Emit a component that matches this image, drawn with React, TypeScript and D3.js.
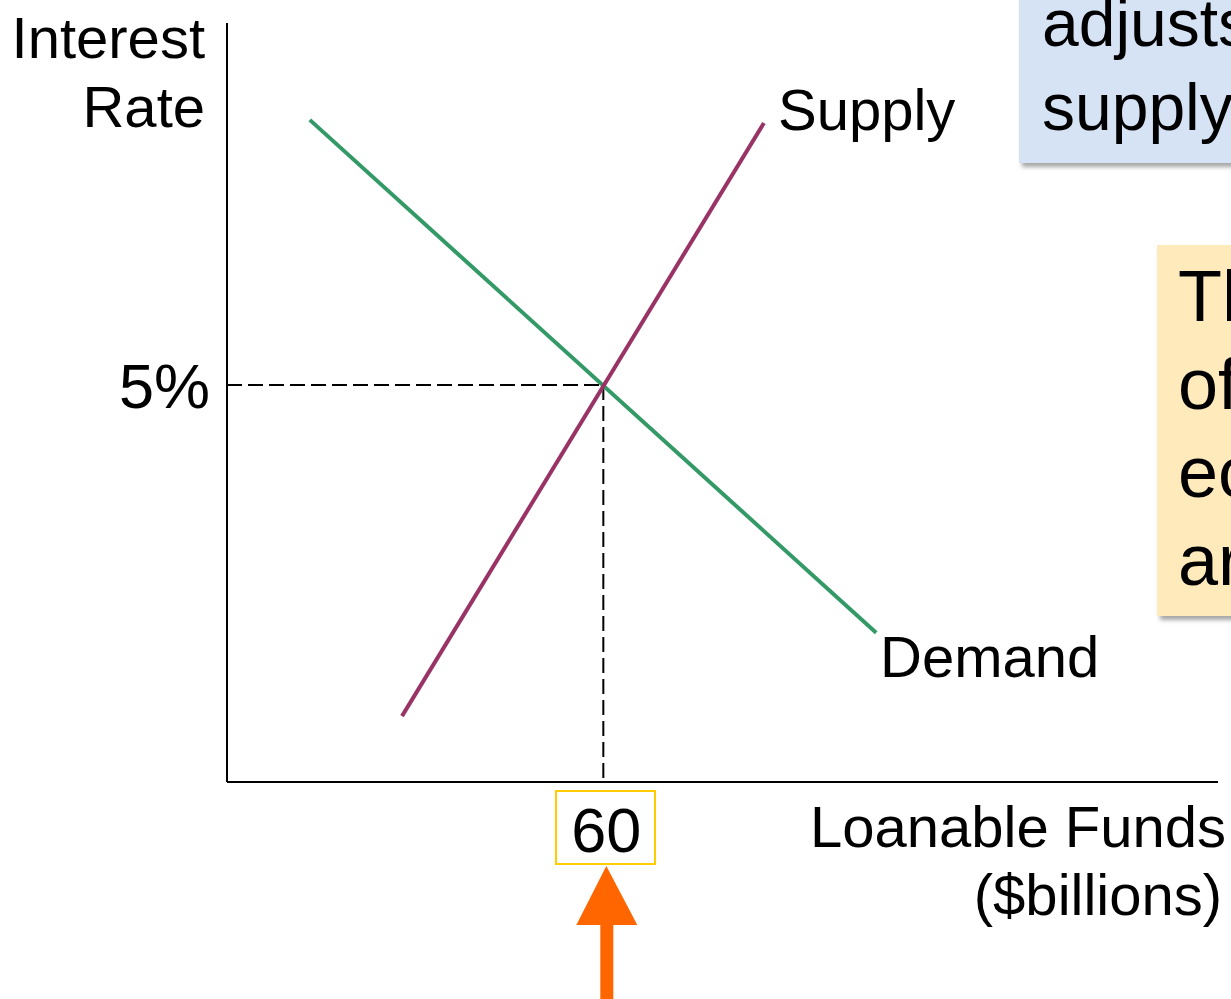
import React from "react";
import * as d3 from "d3";

const WIDTH = 1231;
const HEIGHT = 999;

// loanable funds ($billions) vs interest rate (%)
const demand = [
  { q: 13.2, r: 8.34 },
  { q: 103.5, r: 1.88 },
];
const supply = [
  { q: 27.9, r: 0.83 },
  { q: 85.6, r: 8.3 },
];
const equilibrium = { q: 60, r: 5 };
const yTickLabel = "5%";
const xTickLabel = "60";
const blueNote = ["adjusts to balance", "supply and demand"];
const yellowNote = ["The intersection", "of supply and", "economy's", "are"];

const FONT = "'Liberation Sans', Arial, sans-serif";

function App() {
  const x = d3.scaleLinear().domain([0, 158]).range([227, 1218]);
  const y = d3.scaleLinear().domain([0, 9.56]).range([782, 23]);

  const line = d3
    .line<{ q: number; r: number }>()
    .x((d) => x(d.q))
    .y((d) => y(d.r));

  const ex = x(equilibrium.q);
  const ey = y(equilibrium.r);

  return (
    <svg
      width={WIDTH}
      height={HEIGHT}
      style={{ position: "absolute", left: 0, top: 0, background: "#fff" }}
      fontFamily={FONT}
    >
      <defs>
        <filter id="shadow" x="-10%" y="-10%" width="130%" height="130%">
          <feDropShadow dx="3" dy="4" stdDeviation="2" floodColor="#000" floodOpacity="0.35" />
        </filter>
      </defs>

      {/* note boxes on the right */}
      <rect x={1019} y={-20} width={260} height={183} fill="#d5e3f5" filter="url(#shadow)" />
      {blueNote.map((t, i) => (
        <text key={t} x={1042} y={46 + i * 84} fontSize={66} fill="#000">
          {t}
        </text>
      ))}
      <rect x={1157} y={245} width={120} height={371} fill="#ffeabb" filter="url(#shadow)" />
      {yellowNote.map((t, i) => (
        <text key={t} x={1178} y={321 + i * 88} fontSize={72} fill="#000">
          {t}
        </text>
      ))}

      {/* axes */}
      <line x1={x(0)} y1={y(9.56)} x2={x(0)} y2={y(0)} stroke="#000" strokeWidth={2} />
      <line x1={x(0)} y1={y(0)} x2={x(158)} y2={y(0)} stroke="#000" strokeWidth={2} />

      {/* equilibrium guides */}
      <line x1={x(0)} y1={ey} x2={ex} y2={ey} stroke="#000" strokeWidth={2} strokeDasharray="15 6" />
      <line x1={ex} y1={ey} x2={ex} y2={y(0)} stroke="#000" strokeWidth={2} strokeDasharray="15 6" />

      {/* curves */}
      <path d={line(demand) ?? ""} stroke="#339966" strokeWidth={4} fill="none" />
      <path d={line(supply) ?? ""} stroke="#993366" strokeWidth={4} fill="none" />

      <text x={778} y={y(supply[1].r) + 7} fontSize={58}>Supply</text>
      <text x={880} y={y(demand[1].r) + 44} fontSize={58}>Demand</text>

      {/* axis labels */}
      <text x={205} y={58} fontSize={58} textAnchor="end">Interest</text>
      <text x={205} y={127} fontSize={58} textAnchor="end">Rate</text>
      <text x={210} y={ey + 23} fontSize={63} textAnchor="end">{yTickLabel}</text>

      <rect x={556} y={791} width={99} height={73} fill="#fff" stroke="#ffcc00" strokeWidth={2} />
      <text x={ex + 3} y={852} fontSize={63} textAnchor="middle">{xTickLabel}</text>

      <text x={1226} y={847} fontSize={58} textAnchor="end">Loanable Funds</text>
      <text x={1222} y={915} fontSize={58} textAnchor="end">($billions)</text>

      {/* arrow pointing at the equilibrium quantity */}
      <path d={`M${ex + 3},866 L${ex + 34},925 L${ex - 27},925 Z`} fill="#ff6600" />
      <rect x={ex - 3} y={924} width={13} height={80} fill="#ff6600" />
    </svg>
  );
}

export default App;
